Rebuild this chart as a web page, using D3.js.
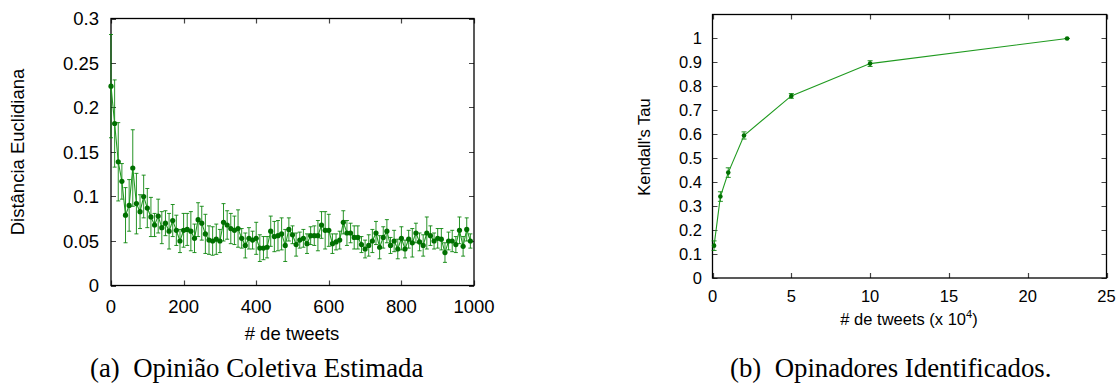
<!DOCTYPE html>
<html>
<head>
<meta charset="utf-8">
<script src="https://cdn.jsdelivr.net/npm/d3@7"></script>
<style>
  body { margin: 0; background: #fff; }
  svg { display: block; }
  .tick-lbl { font-family: "Liberation Sans", Arial, sans-serif; fill: #000; }
  .caption { font-family: "Liberation Serif", "Times New Roman", serif; fill: #000; }
</style>
</head>
<body>
<svg id="fig" width="1120" height="392"></svg>
<script>
// ---- data: (a) Opinião Coletiva Estimada ----
var tweetsA = [0,10,20,30,40,50,60,70,80,90,
  100,110,120,130,140,150,160,170,180,190,
  200,210,220,230,240,250,260,270,280,290,
  300,310,320,330,340,350,360,370,380,390,
  400,410,420,430,440,450,460,470,480,490,
  500,510,520,530,540,550,560,570,580,590,
  600,610,620,630,640,650,660,670,680,690,
  700,710,720,730,740,750,760,770,780,790,
  800,810,820,830,840,850,860,870,880,890,
  900,910,920,930,940,950,960,970,980,990];
var distA = [0.224,0.182,0.139,0.117,0.079,0.090,0.132,0.092,0.083,0.100,
  0.087,0.077,0.068,0.078,0.065,0.070,0.061,0.073,0.062,0.050,
  0.062,0.063,0.061,0.053,0.074,0.070,0.058,0.051,0.050,0.052,
  0.050,0.071,0.068,0.064,0.062,0.064,0.053,0.045,0.053,0.051,
  0.053,0.042,0.042,0.043,0.061,0.055,0.056,0.058,0.045,0.063,
  0.057,0.046,0.051,0.053,0.047,0.056,0.056,0.056,0.068,0.062,
  0.062,0.047,0.049,0.051,0.071,0.059,0.059,0.054,0.054,0.046,
  0.041,0.045,0.050,0.059,0.043,0.054,0.061,0.045,0.050,0.041,
  0.053,0.041,0.052,0.048,0.059,0.049,0.045,0.059,0.056,0.050,
  0.053,0.052,0.037,0.050,0.050,0.046,0.062,0.044,0.063,0.050];
var errA = [0.058,0.049,0.044,0.020,0.031,0.029,0.043,0.034,0.019,0.024,
  0.022,0.022,0.013,0.019,0.018,0.014,0.020,0.018,0.017,0.013,
  0.019,0.018,0.022,0.016,0.019,0.019,0.022,0.016,0.016,0.017,
  0.013,0.021,0.016,0.017,0.016,0.021,0.011,0.014,0.012,0.010,
  0.018,0.015,0.013,0.012,0.017,0.017,0.017,0.018,0.018,0.013,
  0.010,0.013,0.009,0.010,0.011,0.010,0.011,0.017,0.015,0.021,
  0.018,0.011,0.009,0.010,0.013,0.014,0.011,0.013,0.013,0.009,
  0.010,0.012,0.013,0.013,0.013,0.012,0.013,0.009,0.012,0.011,
  0.013,0.010,0.010,0.016,0.011,0.010,0.012,0.018,0.011,0.009,
  0.011,0.012,0.011,0.010,0.012,0.009,0.015,0.011,0.013,0.008];
var xTicksA = [0,200,400,600,800,1000];
var yTicksA = [0,0.05,0.1,0.15,0.2,0.25,0.3];

// ---- data: (b) Opinadores Identificados ----
var tweetsB = [0.1,0.5,1,2,5,10,22.5];
var tauB = [0.135,0.34,0.44,0.595,0.76,0.895,1.0];
var errB = [0.02,0.02,0.02,0.015,0.01,0.012,0];
var xTicksB = [0,5,10,15,20,25];
var yTicksB = [0,0.1,0.2,0.3,0.4,0.5,0.6,0.7,0.8,0.9,1];

var green = "#008000";
var svg = d3.select("#fig");

// gnuplot-like framed panel with inward mirrored ticks
function panel(cfg) {
  var g = svg.append("g");
  var x = d3.scaleLinear().domain(cfg.xDom).range([cfg.left, cfg.right]);
  var y = d3.scaleLinear().domain(cfg.yDom).range([cfg.bottom, cfg.top]);
  var tl = 5;

  // ticks (inward, all four sides)
  g.selectAll(".xt").data(cfg.xTicks).enter().append("path")
    .attr("d", function(d){ var px = Math.round(x(d)) + 0.5;
      return "M"+px+","+cfg.bottom+"v"+(-tl)+"M"+px+","+cfg.top+"v"+tl; })
    .attr("stroke", "#444").attr("stroke-width", 1.2);
  g.selectAll(".yt").data(cfg.yTicks).enter().append("path")
    .attr("d", function(d){ var py = Math.round(y(d)) + 0.5;
      return "M"+cfg.left+","+py+"h"+tl+"M"+cfg.right+","+py+"h"+(-tl); })
    .attr("stroke", "#444").attr("stroke-width", 1.2);

  g.append("rect")
    .attr("x", cfg.left).attr("y", cfg.top)
    .attr("width", cfg.right - cfg.left).attr("height", cfg.bottom - cfg.top)
    .attr("fill", "none").attr("stroke", "#000").attr("stroke-width", 1.3);

  // tick labels
  g.selectAll(".xl").data(cfg.xTicks).enter().append("text")
    .attr("class", "tick-lbl")
    .attr("x", function(d){ return x(d); })
    .attr("y", cfg.xLblY)
    .attr("text-anchor", "middle")
    .style("font-size", cfg.fs + "px")
    .text(function(d){ return d; });
  g.selectAll(".yl").data(cfg.yTicks).enter().append("text")
    .attr("class", "tick-lbl")
    .attr("x", cfg.left - cfg.yLblGap)
    .attr("y", function(d){ return y(d); })
    .attr("dy", "0.36em")
    .attr("text-anchor", "end")
    .style("font-size", cfg.fs + "px")
    .text(function(d){ return d; });

  // error bars
  var cap = cfg.cap;
  g.selectAll(".eb").data(cfg.xs).enter().append("path")
    .attr("d", function(d, i){
      var px = x(d), lo = y(cfg.ys[i] - cfg.es[i]), hi = y(cfg.ys[i] + cfg.es[i]);
      return "M"+px+","+lo+"V"+hi+"M"+(px-cap)+","+hi+"h"+(2*cap)+"M"+(px-cap)+","+lo+"h"+(2*cap);
    })
    .attr("fill", "none").attr("stroke", green).attr("stroke-width", 1).attr("opacity", 0.85);

  // line
  var line = d3.line().x(function(d){ return x(d[0]); }).y(function(d){ return y(d[1]); });
  g.append("path")
    .datum(cfg.xs.map(function(d, i){ return [d, cfg.ys[i]]; }))
    .attr("d", line)
    .attr("fill", "none").attr("stroke", "#1f9a1f").attr("stroke-width", 1.1);

  // points
  g.selectAll(".pt").data(cfg.xs).enter().append("circle")
    .attr("cx", function(d){ return x(d); })
    .attr("cy", function(d, i){ return y(cfg.ys[i]); })
    .attr("r", cfg.r)
    .attr("fill", "#007000");
  return g;
}

panel({
  left: 111, right: 474, top: 18.5, bottom: 285.5,
  xDom: [0, 1000], yDom: [0, 0.3],
  xTicks: xTicksA, yTicks: yTicksA,
  xs: tweetsA, ys: distA, es: errA,
  fs: 18.5, xLblY: 313, yLblGap: 12, cap: 2, r: 2.6
});

panel({
  left: 712.5, right: 1106.5, top: 14.5, bottom: 278,
  xDom: [0, 25], yDom: [0, 1.1],
  xTicks: xTicksB, yTicks: yTicksB,
  xs: tweetsB, ys: tauB, es: errB,
  fs: 16.5, xLblY: 302, yLblGap: 10.5, cap: 2.5, r: 2.3
});

// axis titles
svg.append("text").attr("class", "tick-lbl")
  .attr("transform", "translate(24,152) rotate(-90)")
  .attr("text-anchor", "middle").style("font-size", "18.5px")
  .text("Distância Euclidiana");
svg.append("text").attr("class", "tick-lbl")
  .attr("x", 292).attr("y", 340)
  .attr("text-anchor", "middle").style("font-size", "18.5px")
  .text("# de tweets");

svg.append("text").attr("class", "tick-lbl")
  .attr("transform", "translate(650,147) rotate(-90)")
  .attr("text-anchor", "middle").style("font-size", "16.5px")
  .text("Kendall's Tau");
var xl = svg.append("text").attr("class", "tick-lbl")
  .attr("x", 909).attr("y", 325)
  .attr("text-anchor", "middle").style("font-size", "16.5px");
xl.append("tspan").text("# de tweets (x 10");
xl.append("tspan").attr("dy", -7).style("font-size", "11px").text("4");
xl.append("tspan").attr("dy", 7).text(")");

// captions
svg.append("text").attr("class", "caption")
  .attr("x", 90).attr("y", 377).style("font-size", "26.8px")
  .attr("xml:space", "preserve")
  .text("(a)  Opinião Coletiva Estimada");
svg.append("text").attr("class", "caption")
  .attr("x", 730).attr("y", 377).style("font-size", "26.8px")
  .attr("xml:space", "preserve")
  .text("(b)  Opinadores Identificados.");
</script>
</body>
</html>
